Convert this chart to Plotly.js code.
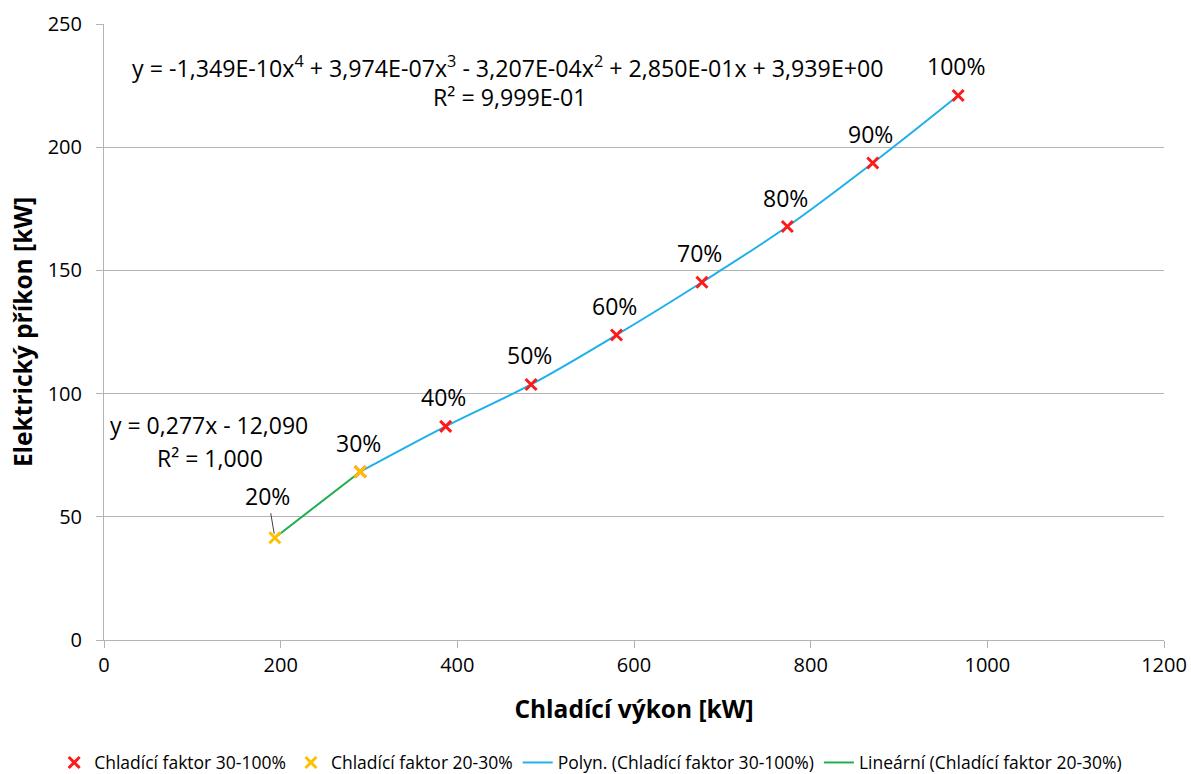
<!DOCTYPE html>
<html>
<head>
<meta charset="utf-8">
<script src="https://cdn.plot.ly/plotly-3.0.1.min.js"></script>
<style>html,body{margin:0;padding:0;background:#fff;}#chart{width:1191px;height:774px;}</style>
</head>
<body>
<div id="chart"></div>
<script>
// Data
const loadLabels = ["20%", "30%", "40%", "50%", "60%", "70%", "80%", "90%", "100%"];
const coolingPower = [193.4, 290.1, 386.8, 483.5, 580.2, 676.9, 773.6, 870.3, 967.0];
const electricInput = [41.5, 68.3, 86.7, 103.7, 123.8, 145.2, 167.8, 193.6, 221.0];

const highX = coolingPower.slice(1);   // 30-100 %
const highY = electricInput.slice(1);
const lowX = coolingPower.slice(0, 2); // 20-30 %
const lowY = electricInput.slice(0, 2);

const polyEquation = "y = -1,349E-10x<sup>4</sup> + 3,974E-07x<sup>3</sup> - 3,207E-04x<sup>2</sup> + 2,850E-01x + 3,939E+00";
const polyR2 = "R² = 9,999E-01";
const linEquation = "y = 0,277x - 12,090";
const linR2 = "R² = 1,000";

const FONT = "Open Sans, sans-serif";
const GRID = "#b3b3b3";

const traces = [
  {
    x: highX, y: highY, type: "scatter", mode: "lines",
    name: "Polyn. (Chladící faktor 30-100%)",
    line: {color: "#1fb0ea", width: 2, shape: "spline"},
    hoverinfo: "skip", legendrank: 3
  },
  {
    x: lowX, y: lowY, type: "scatter", mode: "lines",
    name: "Lineární (Chladící faktor 20-30%)",
    line: {color: "#1fae4f", width: 2},
    hoverinfo: "skip", legendrank: 4
  },
  {
    x: highX, y: highY, type: "scatter", mode: "markers",
    name: "Chladící faktor 30-100%",
    marker: {symbol: "x-thin", size: 11, line: {color: "#ff1a1a", width: 3}, color: "#ff1a1a"},
    legendrank: 1
  },
  {
    x: lowX, y: lowY, type: "scatter", mode: "markers",
    name: "Chladící faktor 20-30%",
    marker: {symbol: "x-thin", size: 11, line: {color: "#ffc000", width: 3}, color: "#ffc000"},
    legendrank: 2
  }
];

const annotations = [];
loadLabels.forEach(function (lab, i) {
  if (i === 0) {
    annotations.push({
      x: coolingPower[i], y: electricInput[i], xref: "x", yref: "y",
      text: lab, showarrow: true, ax: -7, ay: -42, arrowhead: 0,
      arrowwidth: 1, arrowcolor: "#404040", standoff: 4,
      font: {family: FONT, size: 23, color: "#000"}
    });
  } else {
    annotations.push({
      x: coolingPower[i], y: electricInput[i], xref: "x", yref: "y",
      text: lab, showarrow: false, yshift: 29, xshift: -2,
      xanchor: "center", yanchor: "middle",
      font: {family: FONT, size: 23, color: "#000"}
    });
  }
});
annotations.push(
  {xref: "paper", yref: "paper", x: 0.381, y: 0.931, text: polyEquation, showarrow: false,
   xanchor: "center", yanchor: "middle", font: {family: FONT, size: 23.2, color: "#000"}},
  {xref: "paper", yref: "paper", x: 0.383, y: 0.881, text: polyR2, showarrow: false,
   xanchor: "center", yanchor: "middle", font: {family: FONT, size: 23.2, color: "#000"}},
  {xref: "paper", yref: "paper", x: 0.099, y: 0.349, text: linEquation, showarrow: false,
   xanchor: "center", yanchor: "middle", font: {family: FONT, size: 23, color: "#000"}},
  {xref: "paper", yref: "paper", x: 0.100, y: 0.296, text: linR2, showarrow: false,
   xanchor: "center", yanchor: "middle", font: {family: FONT, size: 23, color: "#000"}}
);

const layout = {
  width: 1191, height: 774,
  margin: {l: 104, r: 27, t: 24, b: 134, autoexpand: false},
  paper_bgcolor: "#fff", plot_bgcolor: "#fff",
  font: {family: FONT, color: "#000"},
  showlegend: true,
  legend: {
    orientation: "h", x: -0.047, xanchor: "left",
    y: -0.199, yanchor: "middle",
    font: {family: FONT, size: 17.5, color: "#000"},
    traceorder: "normal", itemwidth: 30
  },
  xaxis: {
    range: [0, 1200], dtick: 200, tick0: 0,
    showgrid: false, zeroline: false,
    showline: true, linecolor: GRID, linewidth: 1,
    ticks: "outside", ticklen: 7, tickcolor: GRID,
    tickfont: {family: FONT, size: 20, color: "#000"},
    title: {text: "<b>Chladící výkon [kW]</b>", font: {family: FONT, size: 24.5, color: "#000"}, standoff: 23}
  },
  yaxis: {
    range: [0, 250], dtick: 50, tick0: 0,
    showgrid: true, gridcolor: GRID, gridwidth: 1, zeroline: false,
    showline: true, linecolor: GRID, linewidth: 1,
    ticks: "outside", ticklen: 7, tickcolor: GRID,
    ticklabelstandoff: 10,
    tickfont: {family: FONT, size: 20, color: "#000"},
    title: {text: "<b>Elektrický příkon [kW]</b>", font: {family: FONT, size: 24.5, color: "#000"}, standoff: 8}
  },
  annotations: annotations
};

Plotly.newPlot("chart", traces, layout, {staticPlot: true, displayModeBar: false});
</script>
</body>
</html>
